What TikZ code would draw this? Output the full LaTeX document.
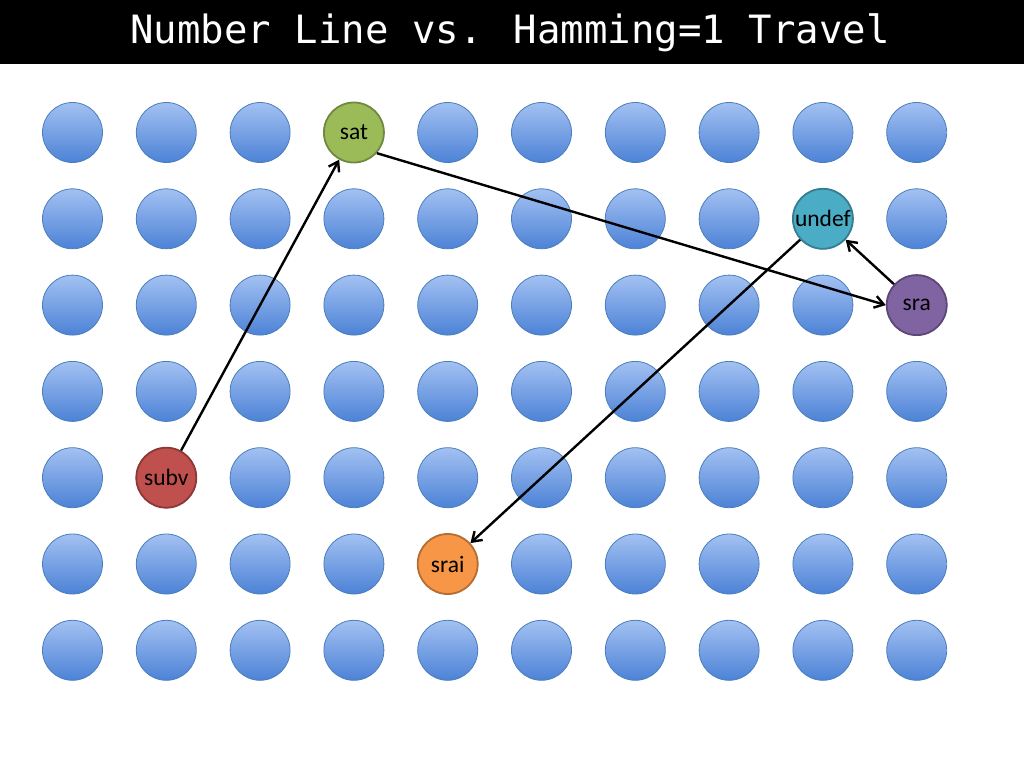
\documentclass[tikz,border=0pt]{standalone}
\usepackage{fontspec}
\setmainfont{Carlito}
\newfontfamily\titlefont{DejaVu Sans Mono}
\usetikzlibrary{arrows.meta}
\definecolor{bluetop}{HTML}{A3C1F2}
\definecolor{bluebot}{HTML}{4C82D6}
\definecolor{blueedge}{HTML}{4A7EBB}
\begin{document}
\begin{tikzpicture}[x=1pt,y=-1pt,
  dot/.style={circle,minimum size=60pt,inner sep=0pt,draw=blueedge,line width=0.8pt,
    top color=bluetop,bottom color=bluebot},
  key/.style={circle,minimum size=60pt,inner sep=0pt,line width=1.8pt,
    font=\fontsize{23.5}{26}\selectfont,text=black},
  arr/.style={line width=2.4pt,-{Straight Barb[length=9pt,width=12pt,line width=2.4pt]}}]
\useasboundingbox (0,0) rectangle (1024,768);
\fill[black] (0,0) rectangle (1024,64);
\node[text=white,font=\titlefont\fontsize{39}{44}\selectfont] (title) at (510,33) {Number Line vs. Hamming=1 Travel};
% grid
\foreach \c in {0,...,9}{
  \foreach \r in {0,...,6}{
    \node[dot] (d\c\r) at ({72.5+93.8*\c},{132.5+86.3*\r}) {};
  }
}
% coloured nodes
\node[key,fill={rgb,255:red,155;green,187;blue,89},draw={rgb,255:red,113;green,137;blue,63}] (sat) at (d30) {sat};
\node[key,fill={rgb,255:red,75;green,172;blue,198},draw={rgb,255:red,53;green,125;blue,145}] (undef) at (d81) {undef};
\node[key,fill={rgb,255:red,128;green,100;blue,162},draw={rgb,255:red,92;green,71;blue,118}] (sra) at (d92) {sra};
\node[key,fill={rgb,255:red,192;green,80;blue,77},draw={rgb,255:red,140;green,56;blue,54}] (subv) at (d14) {subv};
\node[key,fill={rgb,255:red,247;green,150;blue,70},draw={rgb,255:red,182;green,109;blue,49}] (srai) at (d45) {srai};
% arrows
\draw[arr] (subv) -- (sat);
\draw[arr] (sat.-42) -- (sra.west);
\draw[arr] (sra) -- (undef);
\draw[arr] (undef) -- (srai);
\end{tikzpicture}
\end{document}
